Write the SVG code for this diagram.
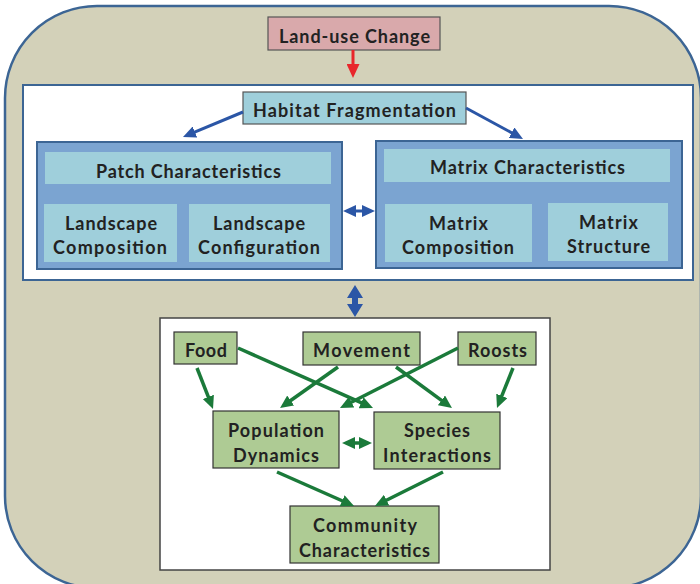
<svg xmlns="http://www.w3.org/2000/svg" width="700" height="584" viewBox="0 0 700 584">
<style>
.t{font-family:Lato,"Liberation Sans",sans-serif;font-weight:bold;font-size:18px;fill:#222;text-anchor:middle}
.lb{fill:#9fcfdb}
.box{stroke:#555;stroke-width:1.2}
.gr{fill:#aecb94;stroke:#333;stroke-width:1.2}
.ga{stroke:#1b7a3a;stroke-width:3.5;fill:none;marker-end:url(#ahg)}
.ba{stroke:#2b56a6;stroke-width:3;fill:none}
</style>
<defs>
<marker id="ahg" markerUnits="userSpaceOnUse" markerWidth="14" markerHeight="12" viewBox="0 0 14 12" refX="3" refY="6" orient="auto-start-reverse"><path d="M0,0 L13,6 L0,12 z" fill="#1b7a3a"/></marker>
<marker id="ahb" markerUnits="userSpaceOnUse" markerWidth="14" markerHeight="12" viewBox="0 0 14 12" refX="3" refY="6" orient="auto-start-reverse"><path d="M0,0 L13,6 L0,12 z" fill="#2b56a6"/></marker>
<marker id="ahr" markerUnits="userSpaceOnUse" markerWidth="14" markerHeight="13" viewBox="0 0 14 13" refX="2" refY="6.5" orient="auto"><path d="M0,0 L14,6.5 L0,13 z" fill="#e8262b"/></marker>
</defs>
<rect id="background" x="5" y="6" width="696" height="582" rx="92" fill="#d3d1b9" stroke="#3c6594" stroke-width="2.5"/>
<rect id="fragmentation-panel" x="23" y="85" width="670" height="195" fill="#fff" stroke="#3c6594" stroke-width="2"/>
<rect id="ecology-panel" x="160" y="318" width="390" height="252" fill="#fff" stroke="#444" stroke-width="1.5"/>

<g id="land-use-change">
<rect x="268" y="17" width="172" height="33" fill="#d9a9ab" class="box"/>
<text class="t" x="354.5" y="43" textLength="151">Land-use Change</text>
</g>
<g id="habitat-fragmentation">
<rect x="243" y="92" width="223" height="32" class="lb box"/>
<text class="t" x="354.5" y="117" textLength="203">Habitat Fragmentation</text>
</g>
<g id="patch-characteristics">
<rect x="37" y="142" width="305" height="127" fill="#7ba4d1" stroke="#3c6594" stroke-width="2"/>
<rect x="45" y="152" width="286" height="32" class="lb"/>
<text class="t" x="188.5" y="178" textLength="185">Patch Characteristics</text>
</g>
<g id="landscape-composition">
<rect x="44" y="204" width="133" height="58" class="lb"/>
<text class="t" x="111" y="230" textLength="92">Landscape</text>
<text class="t" x="110" y="254" textLength="114">Composition</text>
</g>
<g id="landscape-configuration">
<rect x="189" y="204" width="141" height="58" class="lb"/>
<text class="t" x="259" y="230" textLength="92">Landscape</text>
<text class="t" x="259" y="254" textLength="122">Configuration</text>
</g>
<g id="matrix-characteristics">
<rect x="376" y="141" width="306" height="127" fill="#7ba4d1" stroke="#3c6594" stroke-width="2"/>
<rect x="384" y="149" width="286" height="33" class="lb"/>
<text class="t" x="527.5" y="174" textLength="195">Matrix Characteristics</text>
</g>
<g id="matrix-composition">
<rect x="385" y="204" width="147" height="58" class="lb"/>
<text class="t" x="458.5" y="230" textLength="59">Matrix</text>
<text class="t" x="458" y="254" textLength="112">Composition</text>
</g>
<g id="matrix-structure">
<rect x="548" y="203" width="120" height="58" class="lb"/>
<text class="t" x="608.5" y="229" textLength="59">Matrix</text>
<text class="t" x="608.5" y="253" textLength="83">Structure</text>
</g>

<g id="food">
<rect x="174" y="332" width="63" height="32" class="gr"/>
<text class="t" x="206" y="357" textLength="42">Food</text>
</g>
<g id="movement">
<rect x="303" y="332" width="117" height="33" class="gr"/>
<text class="t" x="361.5" y="357" textLength="97">Movement</text>
</g>
<g id="roosts">
<rect x="458" y="332" width="78" height="33" class="gr"/>
<text class="t" x="497.5" y="357" textLength="59">Roosts</text>
</g>
<g id="population-dynamics">
<rect x="213" y="411" width="126" height="57" class="gr"/>
<text class="t" x="276" y="437" textLength="96">Population</text>
<text class="t" x="276" y="462" textLength="86">Dynamics</text>
</g>
<g id="species-interactions">
<rect x="374" y="412" width="126" height="57" class="gr"/>
<text class="t" x="437" y="437" textLength="66">Species</text>
<text class="t" x="437" y="462" textLength="108">Interactions</text>
</g>
<g id="community-characteristics">
<rect x="290" y="506" width="149" height="57" class="gr"/>
<text class="t" x="365" y="532" textLength="104">Community</text>
<text class="t" x="364.5" y="557" textLength="131">Characteristics</text>
</g>

<g id="connectors">
<line x1="353" y1="50" x2="353" y2="66" stroke="#e8262b" stroke-width="3" marker-end="url(#ahr)"/>
<line class="ba" x1="243" y1="112" x2="192.2" y2="133.2" marker-end="url(#ahb)"/>
<line class="ba" x1="466" y1="108" x2="514.2" y2="134.2" marker-end="url(#ahb)"/>
<line class="ba" x1="353" y1="211" x2="365" y2="211" marker-start="url(#ahb)" marker-end="url(#ahb)"/>
<polygon points="355,285 363,298 358,298 358,304 363,304 355,317 347,304 352,304 352,298 347,298" fill="#2b56a6"/>
<line class="ga" x1="197" y1="368" x2="209.4" y2="399.7"/>
<line class="ga" x1="238" y1="348" x2="363.9" y2="403.9"/>
<line class="ga" x1="338" y1="367" x2="288.2" y2="402.2"/>
<line class="ga" x1="396" y1="367" x2="443.9" y2="402.1"/>
<line class="ga" x1="458" y1="348" x2="348.9" y2="403.5"/>
<line class="ga" x1="513" y1="368" x2="500.7" y2="398.7"/>
<line class="ga" x1="352" y1="443" x2="362" y2="443" marker-start="url(#ahg)"/>
<line class="ga" x1="277" y1="472" x2="344.9" y2="502"/>
<line class="ga" x1="443" y1="472" x2="383.9" y2="501.5"/>
</g>
</svg>
